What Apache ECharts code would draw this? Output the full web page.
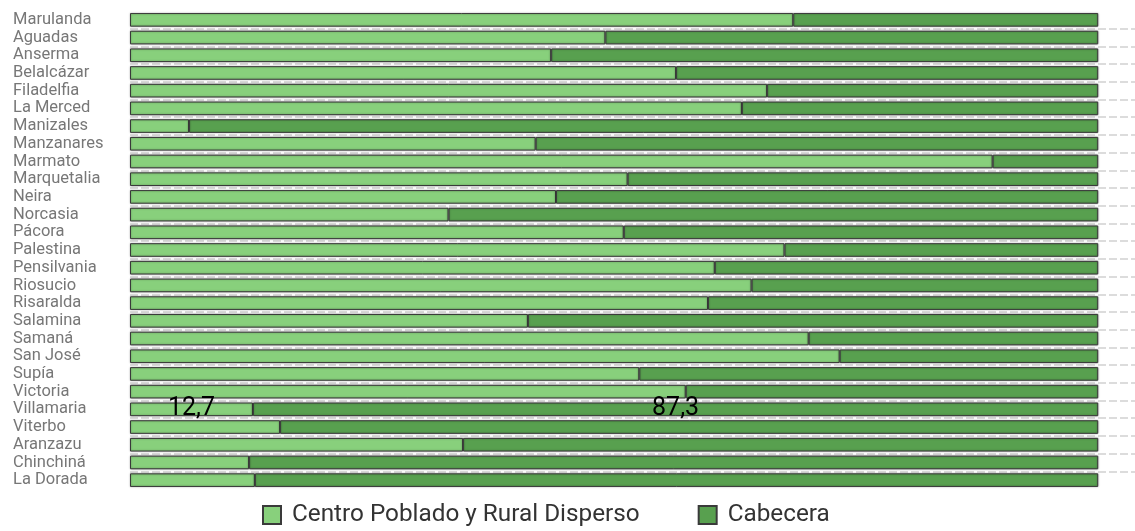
<!DOCTYPE html>
<html>
<head>
<meta charset="utf-8">
<script src="https://cdn.jsdelivr.net/npm/echarts@6/dist/echarts.min.js"></script>
<style>html,body{margin:0;padding:0;background:#fff}#c{width:1135px;height:531px}</style>
</head>
<body>
<div id="c"></div>
<script>
const categories = ["Marulanda","Aguadas","Anserma","Belalcázar","Filadelfia","La Merced","Manizales","Manzanares","Marmato","Marquetalia","Neira","Norcasia","Pácora","Palestina","Pensilvania","Riosucio","Risaralda","Salamina","Samaná","San José","Supía","Victoria","Villamaria","Viterbo","Aranzazu","Chinchiná","La Dorada"];
const centroPoblado = [68.5,49.1,43.5,56.4,65.8,63.2,6.1,41.9,89.1,51.4,44.0,32.9,51.0,67.6,60.4,64.2,59.7,41.1,70.1,73.3,52.6,57.4,12.7,15.5,34.4,12.3,12.9];
const cabecera = [31.5,50.9,56.5,43.6,34.2,36.8,93.9,58.1,10.9,48.6,56.0,67.1,49.0,32.4,39.6,35.8,40.3,58.9,29.9,26.7,47.4,42.6,87.3,84.5,65.6,87.7,87.1];
const labeledCategories = ["Villamaria"];
const seriesNames = ["Centro Poblado y Rural Disperso","Cabecera"];

const fmt = v => v.toFixed(1).replace('.', ',');
function build(values) {
  return values.map((v, i) => labeledCategories.includes(categories[i])
    ? { value: v, label: { show: true } } : v);
}
const labelStyle = { show: false, position: 'inside', color: '#000', fontSize: 25, fontFamily: 'Roboto',
  offset: [0, -1], formatter: p => fmt(p.value) };
const common = { type: 'bar', stack: 'total', barCategoryGap: '23%',
  itemStyle: { borderColor: '#3a3a3a', borderWidth: 1, shadowBlur: 2, shadowColor: 'rgba(0,0,0,0.35)' },
  label: labelStyle };

const chart = echarts.init(document.getElementById('c'));
chart.setOption({
  animation: false,
  grid: { left: 130, right: 0, top: 11, bottom: 42, containLabel: false },
  legend: {
    top: 498, left: 257, icon: 'rect', itemWidth: 18, itemHeight: 18, itemGap: 58,
    textStyle: { fontSize: 24.3, color: '#333', fontFamily: 'Roboto', padding: [0, 0, 0, 6] },
    data: seriesNames
  },
  xAxis: { type: 'value', min: 0, max: 103.8, show: false },
  yAxis: {
    type: 'category', inverse: true, data: categories,
    axisLine: { show: false }, axisTick: { show: false },
    axisLabel: { interval: 0, align: 'left', margin: 117, color: '#777', fontSize: 16.5, fontFamily: 'Roboto' },
    splitLine: { show: true, showMinLine: false, showMaxLine: false,
      lineStyle: { color: '#dcdcdc', width: 2, type: [8, 3] } }
  },
  series: [
    Object.assign({}, common, { name: seriesNames[0], data: build(centroPoblado),
      itemStyle: Object.assign({}, common.itemStyle, { color: '#88d07c' }) }),
    Object.assign({}, common, { name: seriesNames[1], data: build(cabecera),
      itemStyle: Object.assign({}, common.itemStyle, { color: '#58a04f' }) })
  ]
});
</script>
</body>
</html>
